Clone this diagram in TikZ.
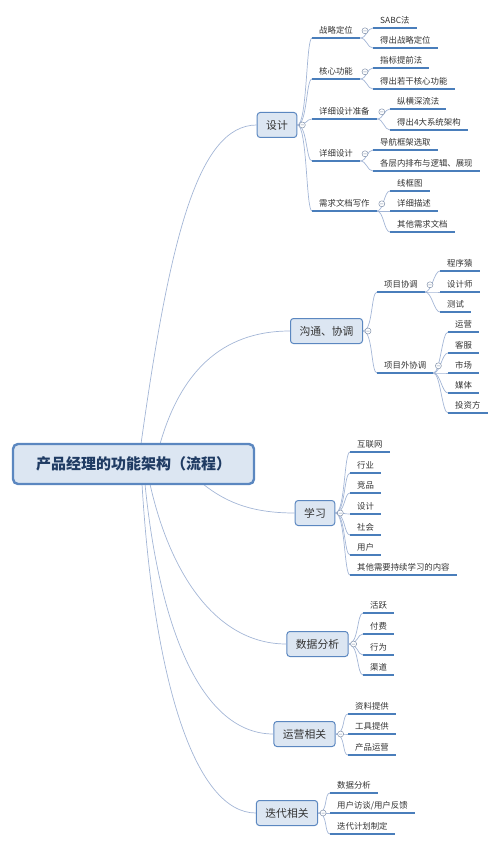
\documentclass[tikz,border=0pt]{standalone}
\usepackage{fontspec}
\setmainfont{Noto Sans CJK SC}
\usetikzlibrary{calc}

\definecolor{linec}{HTML}{A3B6D6}
\definecolor{ulinec}{HTML}{4A7EBB}
\definecolor{boxfill}{HTML}{DCE6F2}
\definecolor{boxline}{HTML}{5B87C0}
\definecolor{rootc}{HTML}{1F3B63}
\definecolor{textc}{HTML}{333333}

\tikzset{
  root/.style={draw=boxline, line width=2.4pt, fill=boxfill, rounded corners=5pt,
    minimum width=241pt, minimum height=40pt, font=\fontsize{15}{18}\selectfont\bfseries, text=rootc},
  topic/.style={draw=boxline, line width=1pt, fill=boxfill, rounded corners=3pt,
    minimum height=25pt, inner xsep=9pt, font=\fontsize{10.8}{13}\selectfont, text=textc},
  leaf/.style={anchor=south west, inner xsep=7pt, inner ysep=3pt, text height=6.5pt,
    text depth=1.5pt, font=\fontsize{8.4}{10}\selectfont, text=textc},
  trunk/.style={linec, line width=0.7pt},
  twig/.style={linec, line width=0.7pt},
  uline/.style={ulinec, line width=1.6pt},
  fold/.style={draw=linec!80!black, fill=white, line width=0.5pt},
}

\begin{document}
\begin{tikzpicture}[x=1pt, y=-1pt]
    \useasboundingbox (0,0) rectangle (500,845);

    % main topics
    \node[topic] (sheji) at (277,125) {设计};
    \node[topic] (gt) at (326.5,331) {沟通、协调};
    \node[topic] (xx) at (315,513) {学习};
    \node[topic] (sj) at (317.5,644) {数据分析};
    \node[topic] (yy) at (304.5,734) {运营相关};
    \node[topic] (dd) at (287,813) {迭代相关};

    % 设计
    \node[leaf] (zl) at (312,38) {战略定位};
    \node[leaf] (hx) at (312,79) {核心功能};
    \node[leaf] (xz) at (312,119) {详细设计准备};
    \node[leaf] (xs) at (312,161) {详细设计};
    \node[leaf] (xq) at (312,211) {需求文档写作};
    \node[leaf] (sabc) at (373,28) {SABC法};
    \node[leaf] (zld) at (373,48) {得出战略定位};
    \node[leaf] (zb) at (373,68) {指标提前法};
    \node[leaf] (hxd) at (373,89) {得出若干核心功能};
    \node[leaf] (zh) at (390,109) {纵横深流法};
    \node[leaf] (jg) at (390,130) {得出4大系统架构};
    \node[leaf] (dh) at (373,150) {导航框架选取};
    \node[leaf] (pb) at (373,171) {各层内排布与逻辑、展现};
    \node[leaf] (xk) at (390,191) {线框图};
    \node[leaf] (ms) at (390,211) {详细描述};
    \node[leaf] (qt) at (390,232) {其他需求文档};

    % 沟通、协调
    \node[leaf] (xm) at (377,292) {项目协调};
    \node[leaf] (xw) at (377,373) {项目外协调};
    \node[leaf] (cx) at (440,271) {程序猿};
    \node[leaf] (sjs) at (440,292) {设计师};
    \node[leaf] (cs) at (440,312) {测试};
    \node[leaf] (yyg) at (448,332) {运营};
    \node[leaf] (kf) at (448,353) {客服};
    \node[leaf] (sc) at (448,373) {市场};
    \node[leaf] (mt) at (448,393) {媒体};
    \node[leaf] (tz) at (448,413) {投资方};

    % 学习
    \node[leaf] (hl) at (350,452) {互联网};
    \node[leaf] (hy) at (350,473) {行业};
    \node[leaf] (jp) at (350,493) {竞品};
    \node[leaf] (xsj) at (350,514) {设计};
    \node[leaf] (sh) at (350,535) {社会};
    \node[leaf] (yh) at (350,555) {用户};
    \node[leaf] (qtx) at (350,575) {其他需要持续学习的内容};

    % 数据分析
    \node[leaf] (hy2) at (363,613) {活跃};
    \node[leaf] (ff) at (363,634) {付费};
    \node[leaf] (xw2) at (363,655) {行为};
    \node[leaf] (qd) at (363,675) {渠道};

    % 运营相关
    \node[leaf] (zltg) at (348,714) {资料提供};
    \node[leaf] (gjtg) at (348,734) {工具提供};
    \node[leaf] (cpyy) at (348,755) {产品运营};

    % 迭代相关
    \node[leaf] (sjfx) at (330,793) {数据分析};
    \node[leaf] (fk) at (330,813) {用户访谈/用户反馈};
    \node[leaf] (jh) at (330,834) {迭代计划制定};

    % root and its curves
    \draw[trunk] ($(13,444)+(128,0)$) .. controls +(28,-200) and +(-60,0) .. (sheji.west);
    \draw[trunk] ($(13,444)+(147,0)$) .. controls +(20,-70) and +(-70,0) .. (gt.west);
    \draw[trunk] ($(13,484)+(190,0)$) .. controls +(25,20) and +(-40,0) .. (xx.west);
    \draw[trunk] ($(13,484)+(137,0)$) .. controls +(20,90) and +(-70,0) .. (sj.west);
    \draw[trunk] ($(13,484)+(132,0)$) .. controls +(15,150) and +(-70,0) .. (yy.west);
    \draw[trunk] ($(13,484)+(129,0)$) .. controls +(12,200) and +(-60,0) .. (dd.west);
    \node[root] (root) at (133.5,464) {产品经理的功能架构（流程）};

    % branches
    \foreach \p/\c in {sheji/zl, sheji/hx, sheji/xz, sheji/xs, sheji/xq,
        gt/xm, gt/xw, xx/hl, xx/hy, xx/jp, xx/xsj, xx/sh, xx/yh, xx/qtx,
        sj/hy2, sj/ff, sj/xw2, sj/qd, yy/zltg, yy/gjtg, yy/cpyy,
        dd/sjfx, dd/fk, dd/jh}
        \draw[twig] (\p.east) .. controls +(10,0) and +(-6,0) .. (\c.south west);
    \foreach \p/\c in {zl/sabc, zl/zld, hx/zb, hx/hxd, xz/zh, xz/jg, xs/dh, xs/pb,
        xq/xk, xq/ms, xq/qt, xm/cx, xm/sjs, xm/cs,
        xw/yyg, xw/kf, xw/sc, xw/mt, xw/tz}
        \draw[twig] (\p.south east) .. controls +(7,0) and +(-6,0) .. (\c.south west);

    % underlines
    \foreach \n in {zl, hx, xz, xs, xq, sabc, zld, zb, hxd, zh, jg, dh, pb, xk, ms, qt,
        xm, xw, cx, sjs, cs, yyg, kf, sc, mt, tz, hl, hy, jp, xsj, sh, yh, qtx,
        hy2, ff, xw2, qd, zltg, gjtg, cpyy, sjfx, fk, jh}
        \draw[uline] (\n.south west) -- (\n.south east);

    % fold marks
    \foreach \n in {sheji, gt, xx, sj, yy, dd, zl, hx, xz, xs, xq, xm, xw}
        \draw[fold] ($(\n.east)+(5,0)$) circle (3pt) ++(-1.6pt,0) -- ++(3.2pt,0);

\end{tikzpicture}
\end{document}
